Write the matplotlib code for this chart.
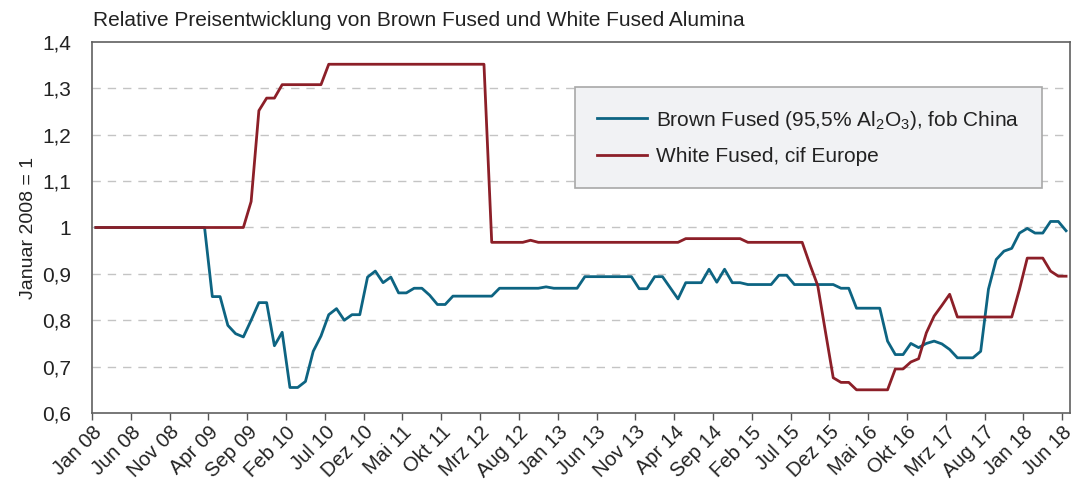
import matplotlib
matplotlib.use("Agg")
import matplotlib.pyplot as plt
import numpy as np

plt.rcParams['font.family'] = ['Liberation Sans', 'DejaVu Sans']
plt.rcParams['mathtext.fontset'] = 'custom'
plt.rcParams['mathtext.rm'] = 'Liberation Sans'

# Monthly series, Jan 08 .. Jun 18 (126 months)
brown_fused = [
    1.0, 1.0, 1.0, 1.0, 1.0, 1.0, 1.0, 1.0, 1.0, 1.0, 1.0, 1.0, 1.0, 1.0, 1.0,
    0.851, 0.851, 0.789, 0.771, 0.764, 0.800, 0.838, 0.838, 0.745, 0.774,
    0.655, 0.655, 0.668, 0.733, 0.766, 0.812, 0.825, 0.800, 0.812, 0.812,
    0.893, 0.906, 0.881, 0.893, 0.859, 0.859, 0.869, 0.869, 0.854, 0.834,
    0.834, 0.852, 0.852, 0.852, 0.852, 0.852, 0.852, 0.869, 0.869, 0.869,
    0.869, 0.869, 0.869, 0.872, 0.869, 0.869, 0.869, 0.869, 0.894, 0.894,
    0.894, 0.894, 0.894, 0.894, 0.894, 0.868, 0.868, 0.894, 0.894, 0.870,
    0.846, 0.881, 0.881, 0.881, 0.910, 0.882, 0.910, 0.881, 0.881, 0.877,
    0.877, 0.877, 0.877, 0.897, 0.897, 0.877, 0.877, 0.877, 0.877, 0.877,
    0.877, 0.869, 0.869, 0.826, 0.826, 0.826, 0.826, 0.755, 0.726, 0.726,
    0.750, 0.741, 0.750, 0.755, 0.749, 0.737, 0.719, 0.719, 0.719, 0.733,
    0.867, 0.931, 0.949, 0.955, 0.988, 0.998, 0.988, 0.988, 1.013, 1.013,
    0.993,
]
white_fused = [
    1.0, 1.0, 1.0, 1.0, 1.0, 1.0, 1.0, 1.0, 1.0, 1.0, 1.0, 1.0, 1.0, 1.0, 1.0,
    1.0, 1.0, 1.0, 1.0, 1.0, 1.056, 1.252, 1.279, 1.279, 1.308, 1.308, 1.308,
    1.308, 1.308, 1.308, 1.352, 1.352, 1.352, 1.352, 1.352, 1.352, 1.352,
    1.352, 1.352, 1.352, 1.352, 1.352, 1.352, 1.352, 1.352, 1.352, 1.352,
    1.352, 1.352, 1.352, 1.352, 0.968, 0.968, 0.968, 0.968, 0.968, 0.9725,
    0.968, 0.968, 0.968, 0.968, 0.968, 0.968, 0.968, 0.968, 0.968, 0.968,
    0.968, 0.968, 0.968, 0.968, 0.968, 0.968, 0.968, 0.968, 0.968, 0.976,
    0.976, 0.976, 0.976, 0.976, 0.976, 0.976, 0.976, 0.968, 0.968, 0.968,
    0.968, 0.968, 0.968, 0.968, 0.968, 0.920, 0.875, 0.775, 0.676, 0.666,
    0.666, 0.650, 0.650, 0.650, 0.650, 0.650, 0.695, 0.695, 0.710, 0.717,
    0.773, 0.809, 0.832, 0.856, 0.807, 0.807, 0.807, 0.807, 0.807, 0.807,
    0.807, 0.807, 0.867, 0.934, 0.934, 0.934, 0.906, 0.895, 0.895,
]
tick_labels = ["Jan 08", "Jun 08", "Nov 08", "Apr 09", "Sep 09", "Feb 10", "Jul 10",
               "Dez 10", "Mai 11", "Okt 11", "Mrz 12", "Aug 12", "Jan 13", "Jun 13",
               "Nov 13", "Apr 14", "Sep 14", "Feb 15", "Jul 15", "Dez 15", "Mai 16",
               "Okt 16", "Mrz 17", "Aug 17", "Jan 18", "Jun 18"]
y_ticks = [0.6, 0.7, 0.8, 0.9, 1.0, 1.1, 1.2, 1.3, 1.4]
y_tick_labels = ["0,6", "0,7", "0,8", "0,9", "1", "1,1", "1,2", "1,3", "1,4"]
label_brown = r"Brown Fused (95,5% Al$_\mathrm{2}$O$_\mathrm{3}$), fob China"
label_white = "White Fused, cif Europe"

BLUE = "#0d6482"
RED = "#8c1f28"
TXT = "#222222"

fig = plt.figure(figsize=(10.75, 4.86), dpi=100)
ax = fig.add_axes([0.0856, 0.1502, 0.9097, 0.7634])

n = len(brown_fused)
x = np.arange(n) + 0.5
ax.plot(x, brown_fused, color=BLUE, lw=2.0, label=label_brown, zorder=3)
ax.plot(x, white_fused, color=RED, lw=2.0, label=label_white, zorder=3)

ax.set_xlim(0, n)
ax.set_ylim(0.6, 1.4)
ax.set_yticks(y_ticks)
ax.set_yticklabels(y_tick_labels, fontsize=15, color=TXT)
ax.tick_params(axis='y', length=0, pad=15)

ax.set_xticks(np.arange(0, n, 5))
ax.set_xticklabels(tick_labels, rotation=45, ha='right', va='top',
                   rotation_mode='anchor', fontsize=14.5, color=TXT)
ax.tick_params(axis='x', length=5, width=1, color="#555555", pad=2)

for yv in [0.7, 0.8, 0.9, 1.0, 1.1, 1.2, 1.3]:
    ax.axhline(yv, color="#c4c4c4", lw=1, ls=(0, (6, 5)), zorder=1)

for s in ax.spines.values():
    s.set_color("#606060")
    s.set_linewidth(1.2)

ax.set_ylabel("Januar 2008 = 1", fontsize=14, color=TXT)
ax.yaxis.set_label_coords(-0.056, 0.5)

fig.text(0.0865, 0.958, "Relative Preisentwicklung von Brown Fused und White Fused Alumina",
         fontsize=15, color=TXT, ha='left', va='center')

leg = ax.legend(loc='upper left', bbox_to_anchor=(0.494, 0.879), fontsize=15,
                frameon=True, fancybox=False, framealpha=1, facecolor="#f1f2f4",
                edgecolor="#a8a8a8", handlelength=2.4, handletextpad=0.45,
                labelspacing=0.75, borderpad=1.05, borderaxespad=0)
leg.get_frame().set_linewidth(1.2)
for t in leg.get_texts():
    t.set_color(TXT)

fig.savefig("out.png", dpi=100)
